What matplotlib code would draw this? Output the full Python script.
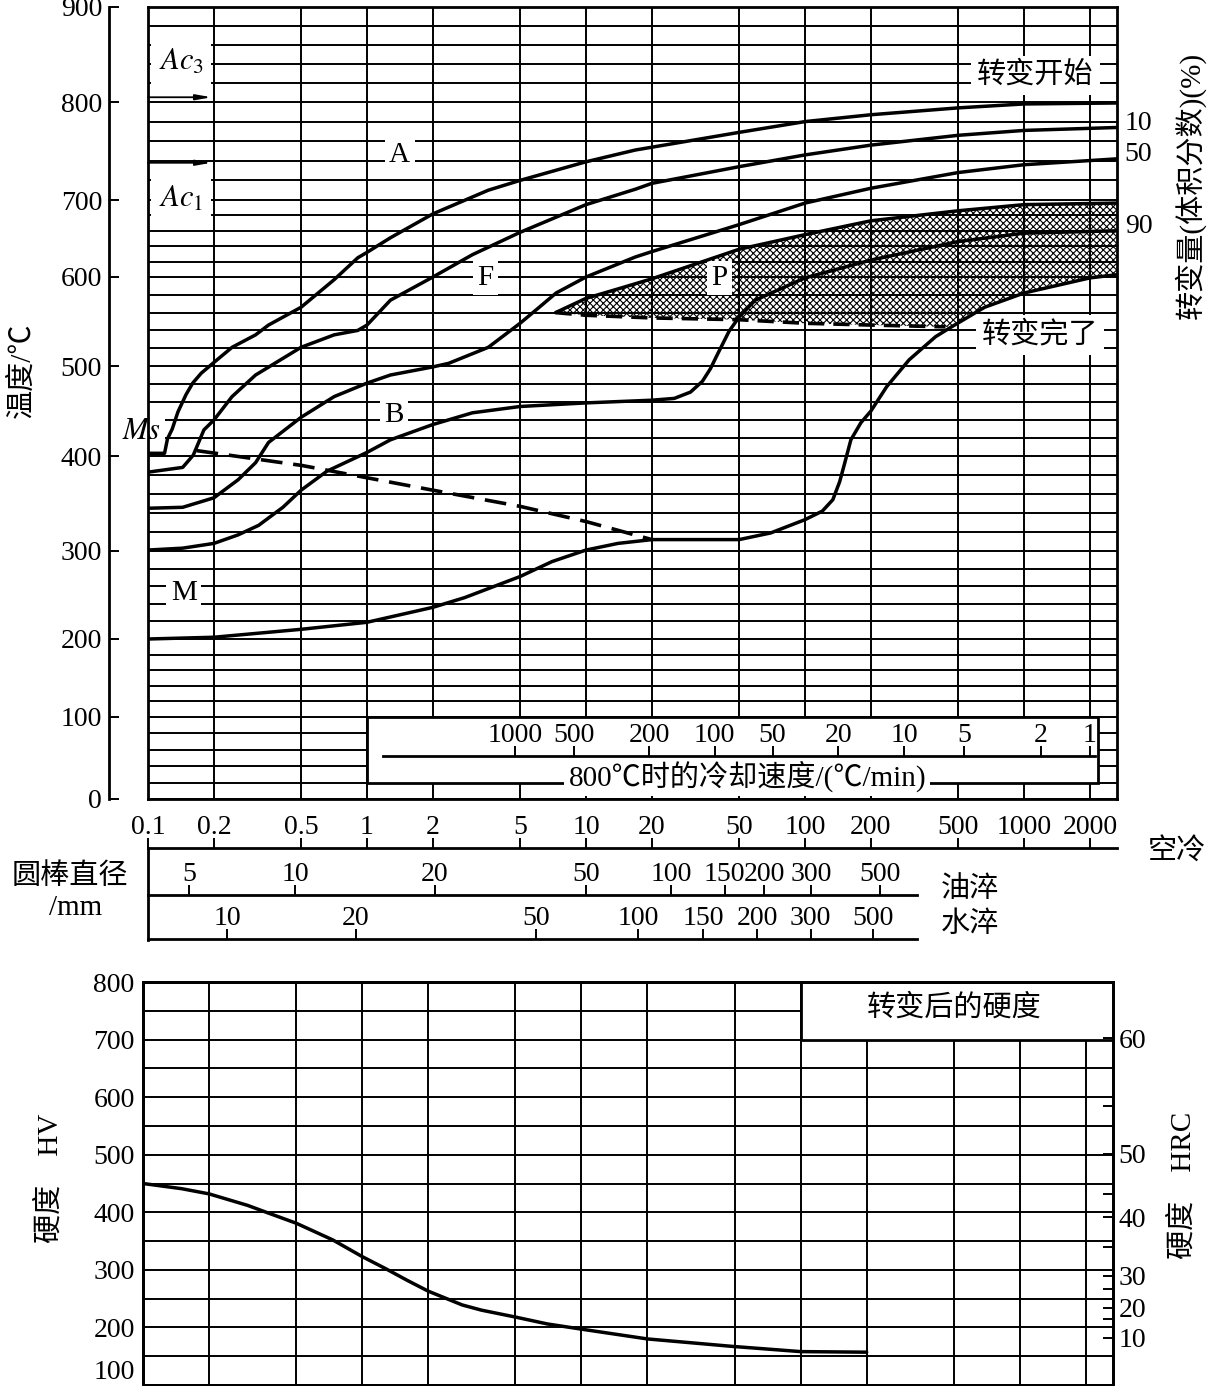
import numpy as np
import matplotlib
matplotlib.use("Agg")
import matplotlib.pyplot as plt
from matplotlib.patches import Rectangle
from matplotlib.lines import Line2D
from matplotlib.ticker import FixedLocator, NullLocator
import matplotlib.transforms as mtransforms

plt.rcParams['font.family'] = ['Liberation Serif', 'Noto Sans CJK SC']
plt.rcParams['mathtext.fontset'] = 'stix'
plt.rcParams['hatch.color'] = 'black'
plt.rcParams['hatch.linewidth'] = 0.8
plt.rcParams['axes.unicode_minus'] = False

# ---------------------------------------------------------------- data
temp_ticks = [0, 100, 200, 300, 400, 500, 600, 700, 800, 900]
grid_time = [0.2, 0.5, 1, 2, 5, 10, 20, 50, 100, 200, 500, 1000, 2000]

air_ticks = [0.1, 0.2, 0.5, 1, 2, 5, 10, 20, 50, 100, 200, 500, 1000, 2000]
air_labels = ['0.1', '0.2', '0.5', '1', '2', '5', '10', '20', '50', '100',
              '200', '500', '1000', '2000']
oil_labels = ['5', '10', '20', '50', '100', '150', '200', '300', '500']
oil_pos = [0.154, 0.469, 2.04, 10, 24.5, 43, 65.3, 107, 219]
water_labels = ['10', '20', '50', '100', '150', '200', '300', '500']
water_pos = [0.230, 0.889, 5.93, 17.3, 34.3, 60.5, 106, 204]
quench_scale_end = 324
rate_labels = ['1000', '500', '200', '100', '50', '20', '10', '5', '2', '1']
rate_pos = [4.74, 8.79, 19.4, 38.7, 71.1, 142, 284, 532, 1191, 2000]
rate_line = (1.18, 2110)
rate_box = (1.0, 2180)

ac3, ac1 = 805, 738

# transformation start
start_t = [0.1, 0.119, 0.1227, 0.129, 0.137, 0.149, 0.16, 0.175, 0.2, 0.242, 0.31,
           0.355, 0.5, 0.708, 0.908, 1, 1.28, 2, 3.58, 5, 10, 16.8, 50, 100, 200,
           500, 1000, 2660]
start_T = [403, 403, 419, 430, 449, 468, 481, 492, 504, 521, 535,
           546, 566, 597, 625, 632, 651, 682, 710, 720, 739, 751, 769, 780, 787,
           794, 798, 799]
# 10 %
p10_t = [0.1, 0.144, 0.161, 0.18, 0.2, 0.242, 0.31, 0.5, 0.708, 0.908, 1, 1.28,
         2, 3.03, 5, 10, 16.8, 20, 50, 100, 200, 500, 1000, 2660]
p10_T = [383, 388, 401, 429, 440, 466, 490, 521, 535, 540, 546, 574,
         600, 629, 658, 694, 711, 717, 734, 746, 756, 766, 771, 774]
# 50 %
p50_t = [0.1, 0.144, 0.2, 0.258, 0.31, 0.355, 0.5, 0.708, 1, 1.28, 2, 2.36, 3.58,
         5, 6.05, 7.3, 10, 16.8, 20, 50, 100, 200, 500, 1000, 2660]
p50_T = [345, 346, 356, 375, 393, 415, 443, 466, 481, 490, 499, 503, 521,
         548, 565, 582, 600, 626, 633, 668, 696, 712, 728, 736, 742]
# 90 %  (through bainite, B)
p90_t = [0.1, 0.144, 0.2, 0.258, 0.32, 0.413, 0.5, 0.656, 1, 1.28, 2, 3.03, 5, 10,
         20, 25.3, 30, 34, 37, 40, 45, 50, 59.3, 100, 200, 500, 1000, 2660]
p90_T = [301, 303, 308, 317, 327, 346, 364, 384, 404, 418, 435, 448, 455, 459,
         462, 464, 471, 483, 497, 514, 539, 555, 574, 599, 622, 646, 657, 660]
# transformation end (from M)
end_t = [0.1, 0.2, 0.5, 1, 2, 2.79, 5, 7, 10, 14, 20, 50, 69.7, 100, 120, 134,
         144, 152, 162, 180, 200, 236, 299, 395, 467, 661, 1000, 2000, 2660]
end_T = [200, 202, 211, 219, 236, 247, 271, 288, 301, 308, 312, 312, 319, 333, 342,
         354, 373, 393, 418, 437, 450, 477, 507, 533, 544, 566, 582, 599, 603]
# pearlite field
pearl_top_t = [7.26, 10, 15.1, 20, 50, 100, 200, 500, 1000, 2660]
pearl_top_T = [560, 576, 589, 598, 636, 655, 673, 686, 694, 696]
pearl_end_t = [7.26, 10, 20, 50, 100, 200, 438]
pearl_end_T = [560, 557, 554, 552, 548, 546, 544]
# Ms line
ms_t = [0.1667, 0.505, 2, 5, 10, 20]
ms_T = [406, 390, 364, 347, 331, 312]

# hardness after transformation
hard_t = [0.1, 0.15, 0.2, 0.3, 0.365, 0.5, 0.734, 1, 1.28, 1.6, 2, 2.86, 3.5, 5, 7,
          10, 20, 49, 100, 200]
hard_HV = [450, 441, 432, 412, 400, 381, 352, 323, 302, 282, 263, 239, 230, 218, 206,
           197, 180, 167, 158, 157]
hv_ticks = [100, 200, 300, 400, 500, 600, 700, 800]
hv_minor = [150, 250, 350, 450, 550, 650, 750]
hrc_labels = ['60', '50', '40', '30', '20', '10']
hrc_label_hv = [702, 502, 391, 290, 234, 182]
hrc_minor_hv = [585, 431, 340, 267, 250, 215]

# ---------------------------------------------------------------- layout
W, H, DPI = 1207, 1386, 100
fig = plt.figure(figsize=(W / DPI, H / DPI), dpi=DPI)


def box(x0, y0, x1, y1):
    return [x0 / W, 1 - y1 / H, (x1 - x0) / W, max(y1 - y0, 0.01) / H]


# the printed temperature scale is unevenly spaced: label offsets along the axis
temp_axis_offsets = [0, 82, 160, 248, 343, 433, 522, 599, 697, 792]


def temp_fwd(v):
    return np.interp(v, temp_ticks, temp_axis_offsets)


def temp_inv(v):
    return np.interp(v, temp_axis_offsets, temp_ticks)


X_MAX = 10 ** (-1 + 969 / 219)
LW_GRID, LW_FRAME, LW_CURVE = 1.4, 2.0, 2.5
FS = 20
FS_CJK = 21
white = dict(boxstyle='square,pad=0.15', fc='white', ec='none')

# ---------------------------------------------------------------- top CCT
ax = fig.add_axes(box(148, 7, 1117, 799))
ax.set_xscale('log')
ax.set_xlim(0.1, X_MAX)
ax.set_yscale('function', functions=(temp_fwd, temp_inv))
ax.set_ylim(0, 900)
ax.xaxis.set_major_locator(FixedLocator(grid_time))
ax.xaxis.set_minor_locator(NullLocator())
ax.yaxis.set_major_locator(FixedLocator(np.arange(0, 901, 20)))
ax.yaxis.set_minor_locator(NullLocator())
ax.tick_params(which='both', length=0, labelbottom=False, labelleft=False)
ax.grid(True, color='black', lw=LW_GRID)
ax.set_axisbelow(True)
for s in ax.spines.values():
    s.set_linewidth(LW_FRAME)

ckw = dict(color='black', lw=LW_CURVE, zorder=3, solid_joinstyle='round',
           solid_capstyle='round')
for tt, TT in [(start_t, start_T), (p10_t, p10_T), (p50_t, p50_T),
               (p90_t, p90_T), (end_t, end_T), (pearl_top_t, pearl_top_T)]:
    ax.plot(tt, TT, **ckw)
ax.plot(pearl_end_t, pearl_end_T, color='black', lw=2.6, ls=(0, (4.5, 2.5)), zorder=3)
ax.plot(ms_t, ms_T, color='black', lw=2.6, ls=(0, (6, 3)), zorder=3)

end_t_a, end_T_a = np.array(end_t), np.array(end_T)
tail = end_t_a > pearl_end_t[-1]
poly_t = np.concatenate([pearl_top_t, end_t_a[tail][::-1], pearl_end_t[::-1]])
poly_T = np.concatenate([pearl_top_T, end_T_a[tail][::-1], pearl_end_T[::-1]])
ax.fill(poly_t, poly_T, facecolor='none', edgecolor='black', lw=0, hatch='xxxxx',
        zorder=1)

# cooling-rate inset
ax.add_patch(Rectangle((rate_box[0], 20), rate_box[1] - rate_box[0], 80,
                       fc='white', ec='black', lw=LW_FRAME, zorder=2))
ax.text(54.5, 28, '800℃时的冷却速度/(℃/min)', ha='center', va='center',
        fontsize=FS_CJK, bbox=white, zorder=2.6)

# labels inside
for txt, x, y in [('A', 1.41, 746), ('F', 3.47, 599), ('B', 1.33, 446),
                  ('M', 0.1456, 252), ('P', 40.8, 599)]:
    ax.text(x, y, txt, ha='center', va='center', fontsize=21, bbox=white, zorder=2.6)
ax.text(1129, 828, '转变开始', ha='center', va='center', fontsize=FS_CJK,
        bbox=dict(boxstyle='square,pad=0.2', fc='white', ec='none'), zorder=2.6)
ax.text(1180, 535, '转变完了', ha='center', va='center', fontsize=FS_CJK,
        bbox=dict(boxstyle='square,pad=0.2', fc='white', ec='none'), zorder=2.6)
ax.text(0.1416, 842, r'$Ac_{3}$', ha='center', va='center', fontsize=22,
        bbox=dict(boxstyle='square,pad=0.25', fc='white', ec='none'), zorder=2.6)
ax.text(0.1416, 701, r'$Ac_{1}$', ha='center', va='center', fontsize=22,
        bbox=dict(boxstyle='square,pad=0.25', fc='white', ec='none'), zorder=2.6)
ax.text(0.093, 427, r'$Ms$', ha='center', va='center', fontsize=22,
        bbox=white, zorder=2.4, clip_on=False)
for T_ in (ac3, ac1):
    ax.annotate('', xy=(0.195, T_), xytext=(0.1, T_), zorder=3,
                arrowprops=dict(arrowstyle='-|>,head_length=0.9,head_width=0.16',
                                color='black', lw=1.3, shrinkA=0, shrinkB=0))

bl = mtransforms.blended_transform_factory(ax.transAxes, ax.transData)
for txt, T_ in [('10', 778), ('50', 746), ('90', 665)]:
    ax.text(1.008, T_, txt, transform=bl, ha='left', va='center', fontsize=FS,
            clip_on=False)

# temperature axis (separate spine)
axT = fig.add_axes(box(109, 7, 110, 799))
axT.set_yscale('function', functions=(temp_fwd, temp_inv))
axT.set_ylim(0, 900)
axT.patch.set_visible(False)
for k in ('right', 'top', 'bottom'):
    axT.spines[k].set_visible(False)
axT.spines['left'].set_linewidth(LW_FRAME)
axT.set_xticks([])
axT.set_yticks(temp_ticks, [str(v) for v in temp_ticks])
axT.yaxis.set_minor_locator(NullLocator())
axT.tick_params(axis='y', direction='in', length=7, width=1.4, pad=5, labelsize=FS)


# ---------------------------------------------------------------- scale lines
def scale_line(ypix, bounds, pos, labels):
    a = fig.add_axes(box(148, ypix, 1117, ypix))
    a.set_xscale('log')
    a.set_xlim(0.1, X_MAX)
    a.set_ylim(0, 1)
    a.patch.set_visible(False)
    for k in ('left', 'right', 'bottom'):
        a.spines[k].set_visible(False)
    a.spines['top'].set_linewidth(LW_FRAME)
    a.spines['top'].set_bounds(*bounds)
    a.xaxis.set_ticks_position('top')
    a.set_xticks(pos, labels)
    a.xaxis.set_minor_locator(NullLocator())
    a.set_yticks([])
    a.tick_params(axis='x', which='major', direction='out', length=7, width=1.4,
                  pad=-1.5, labelsize=FS, top=True, labeltop=True,
                  bottom=False, labelbottom=False)
    return a


scale_line(756, rate_line, rate_pos, rate_labels)
scale_line(848, (0.1, X_MAX), air_ticks, air_labels)
scale_line(895, (0.1, quench_scale_end), oil_pos, oil_labels)
scale_line(939, (0.1, quench_scale_end), water_pos, water_labels)
fig.add_artist(Line2D([148 / W, 148 / W], [1 - 848 / H, 1 - 940 / H],
                      transform=fig.transFigure, color='black', lw=LW_FRAME))

# ---------------------------------------------------------------- hardness
axh = fig.add_axes(box(143, 982, 1113, 1385))
axh.set_xscale('log')
axh.set_xlim(0.1, X_MAX)
axh.set_ylim(100, 800)
axh.xaxis.set_major_locator(FixedLocator(grid_time))
axh.xaxis.set_minor_locator(NullLocator())
axh.set_yticks(hv_ticks, [str(v) for v in hv_ticks])
axh.yaxis.set_minor_locator(FixedLocator(hv_minor))
axh.tick_params(which='both', length=0, labelbottom=False)
axh.tick_params(axis='y', pad=6, labelsize=FS)
axh.grid(True, which='both', color='black', lw=LW_GRID)
axh.set_axisbelow(True)
for s in axh.spines.values():
    s.set_linewidth(LW_FRAME)
axh.get_yticklabels()[0].set_va('bottom')
axh.add_patch(Rectangle((100, 700), 1e5, 100, fc='white', ec='black',
                        lw=LW_FRAME, zorder=2))
axh.text(500, 755, '转变后的硬度', ha='center', va='center', fontsize=FS_CJK, zorder=3)
axh.plot(hard_t, hard_HV, **ckw)

axr = axh.twinx()
axr.set_ylim(100, 800)
axr.set_yticks(hrc_label_hv, hrc_labels)
axr.yaxis.set_minor_locator(FixedLocator(hrc_minor_hv))
axr.tick_params(axis='y', which='both', direction='in', length=7, width=1.4,
                pad=4, labelsize=FS)
for s in axr.spines.values():
    s.set_linewidth(LW_FRAME)

# ---------------------------------------------------------------- outer texts
def ftext(x, y, s, **kw):
    fig.text(x / W, 1 - y / H, s, ha='center', va='center', fontsize=FS_CJK, **kw)


ftext(22, 370, '温度/℃', rotation=90)
ftext(1190, 185, '转变量(体积分数)(%)', rotation=90)
ftext(1177, 851, '空冷')
ftext(970, 890, '油淬')
ftext(970, 925, '水淬')
ftext(70, 877, '圆棒直径')
ftext(76, 908, '/mm')
ftext(50, 1178, '硬度\u3000HV', rotation=90)
ftext(1183, 1185, '硬度\u3000HRC', rotation=90)

fig.savefig('out.png', dpi=DPI)
